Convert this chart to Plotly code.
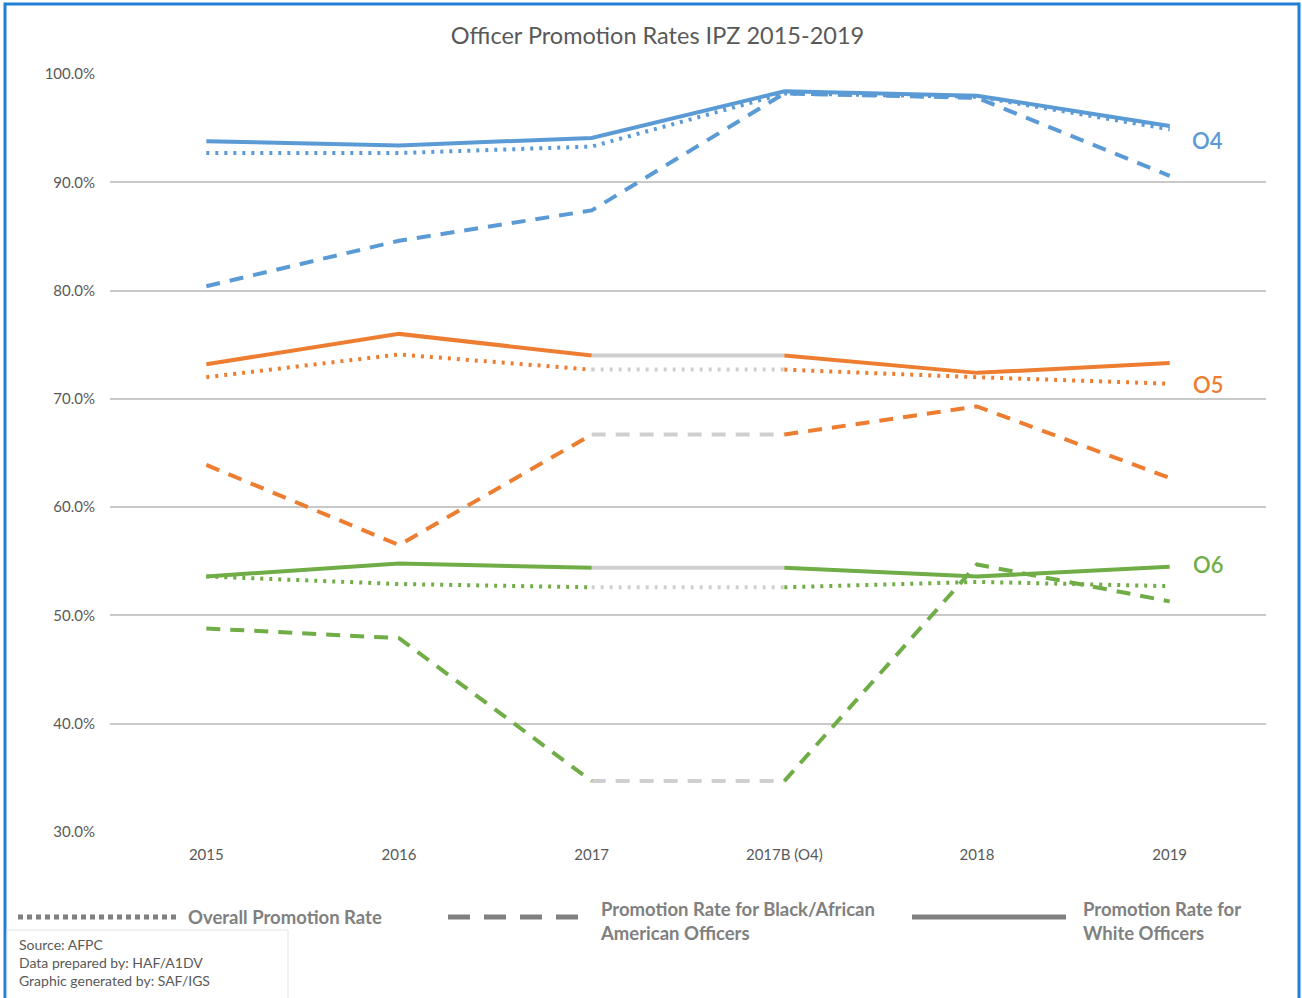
import plotly.graph_objects as go

# data
categories = ["2015", "2016", "2017", "2017B (O4)", "2018", "2019"]

o4_white = [93.8, 93.4, 94.1, 98.4, 98.0, 95.2]
o4_overall = [92.7, 92.7, 93.3, 98.2, 97.9, 94.9]
o4_black = [80.4, 84.6, 87.4, 98.2, 97.8, 90.6]

o5_white = [73.2, 76.0, 74.0, 74.0, 72.4, 73.3]
o5_overall = [72.0, 74.1, 72.7, 72.7, 72.0, 71.4]
o5_black = [63.9, 56.5, 66.7, 66.7, 69.3, 62.7]

o6_white = [53.6, 54.8, 54.4, 54.4, 53.6, 54.5]
o6_overall = [53.6, 52.9, 52.6, 52.6, 53.1, 52.7]
o6_black = [48.8, 47.9, 34.7, 34.7, 54.7, 51.3]

BLUE = "#5b9bd5"
ORANGE = "#ed7d31"
GREEN = "#70ad47"
GRAY_SEG = "#cfcfcf"
TEXT = "#595959"
LEG = "#808080"
FONT = "Lato, Carlito, 'Open Sans', sans-serif"

W, H = 1302, 998
L, R, T, B = 110, 36, 74, 166


def px(x):
    return (x - L) / (W - L - R)


def py(y):
    return (H - B - y) / (H - T - B)


styles = {
    "white": dict(dash="solid", width=4),
    "overall": dict(dash="3px,6px", width=4),
    "black": dict(dash="14px,10px", width=4),
}

fig = go.Figure()


def add_line(x, y, color, kind):
    st = styles[kind]
    fig.add_trace(
        go.Scatter(
            x=x,
            y=y,
            mode="lines",
            line=dict(color=color, width=st["width"], dash=st["dash"]),
            showlegend=False,
            hoverinfo="skip",
        )
    )


# O4: continuous
for vals, kind in [(o4_black, "black"), (o4_overall, "overall"), (o4_white, "white")]:
    add_line(categories, vals, BLUE, kind)

# O5 / O6: 2017 -> 2017B segment drawn in gray
for color, group in [
    (ORANGE, [(o5_black, "black"), (o5_overall, "overall"), (o5_white, "white")]),
    (GREEN, [(o6_black, "black"), (o6_overall, "overall"), (o6_white, "white")]),
]:
    for vals, kind in group:
        add_line(categories[2:4], vals[2:4], GRAY_SEG, kind)
        add_line(categories[:3], vals[:3], color, kind)
        add_line(categories[3:], vals[3:], color, kind)

# group labels
for txt, yv, color in [("O4", 93.9, BLUE), ("O5", 71.3, ORANGE), ("O6", 54.7, GREEN)]:
    fig.add_annotation(
        x=5, y=yv, xref="x", yref="y", text=txt, showarrow=False,
        xshift=38, font=dict(family=FONT, size=22, color=color, weight=600),
    )

shapes = []
# outer border
shapes.append(dict(type="rect", xref="paper", yref="paper",
                   x0=px(5), x1=px(1299), y0=py(1003), y1=py(4),
                   line=dict(color="#1f7fd6", width=3)))
# source box
shapes.append(dict(type="rect", xref="paper", yref="paper",
                   x0=px(7), x1=px(288), y0=py(1003), y1=py(930),
                   line=dict(color="#e3e3e3", width=1), fillcolor="white"))
# legend lines
shapes.append(dict(type="line", xref="paper", yref="paper",
                   x0=px(18), x1=px(176), y0=py(917), y1=py(917),
                   line=dict(color=LEG, width=5, dash="5px,4px")))
shapes.append(dict(type="line", xref="paper", yref="paper",
                   x0=px(448), x1=px(590), y0=py(917), y1=py(917),
                   line=dict(color=LEG, width=5, dash="22px,14px")))
shapes.append(dict(type="line", xref="paper", yref="paper",
                   x0=px(912), x1=px(1066), y0=py(917), y1=py(917),
                   line=dict(color=LEG, width=5)))

legend_texts = [
    (186, 917, "Overall Promotion Rate"),
    (598, 921, "Promotion Rate for Black/African<br>American Officers"),
    (1081, 921, "Promotion Rate for<br>White Officers"),
]
for xx, yy, txt in legend_texts:
    fig.add_annotation(
        x=px(xx), y=py(yy), xref="paper", yref="paper", text=txt,
        showarrow=False, xanchor="left", yanchor="middle", align="left",
        font=dict(family=FONT, size=18.5, color=LEG, weight="bold"),
    )

fig.add_annotation(
    x=px(17), y=py(934), xref="paper", yref="paper",
    text="Source: AFPC<br>Data prepared by: HAF/A1DV<br>Graphic generated by: SAF/IGS",
    showarrow=False, xanchor="left", yanchor="top", align="left",
    font=dict(family=FONT, size=14, color=TEXT),
)

fig.update_layout(
    width=W,
    height=H,
    margin=dict(l=L, r=R, t=T, b=B),
    paper_bgcolor="white",
    plot_bgcolor="white",
    shapes=shapes,
    title=dict(
        text="Officer Promotion Rates IPZ 2015-2019",
        x=0.505, xanchor="center", y=1 - 36 / H, yanchor="middle",
        font=dict(family=FONT, size=23.5, color=TEXT),
    ),
    font=dict(family=FONT, color=TEXT),
)
fig.update_xaxes(
    type="category",
    range=[-0.5, 5.5],
    showgrid=False,
    showline=False,
    zeroline=False,
    ticks="",
    tickfont=dict(family=FONT, size=15, color=TEXT),
    ticklabelstandoff=12,
)
fig.update_yaxes(
    range=[30, 100],
    dtick=10,
    ticksuffix="%",
    tickformat=".1f",
    showgrid=True,
    gridcolor="#c9c9c9",
    gridwidth=1.5,
    zeroline=False,
    showline=False,
    tickfont=dict(family=FONT, size=15, color=TEXT),
    ticklabelstandoff=14,
)

# drop the browser's default page margin so the figure sits at (0, 0)
fig.write_html(
    "out.html",
    config={"displayModeBar": False},
    post_script="document.body.style.margin = '0';",
)
